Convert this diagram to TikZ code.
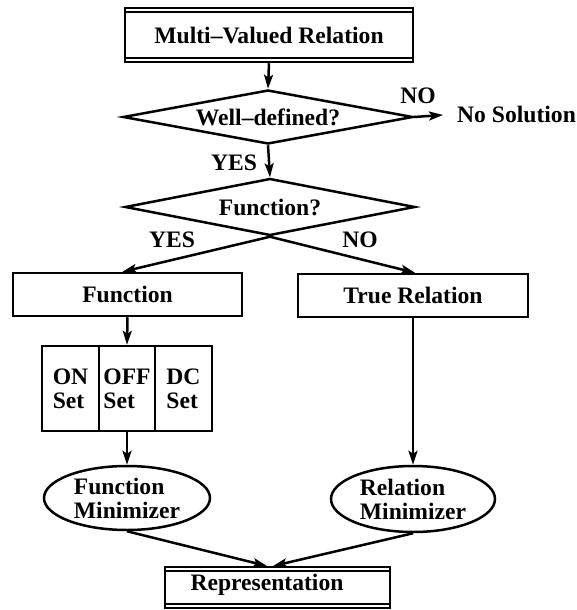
\documentclass[tikz,border=0pt]{standalone}
\usepackage{fontspec}
\setmainfont{Liberation Serif}
\usetikzlibrary{shapes.geometric,arrows.meta,calc}
\begin{document}
\begin{tikzpicture}[x=1pt,y=-1pt,
  font=\fontsize{23.6}{24}\selectfont\bfseries,
  box/.style={draw,line width=2.5pt,rectangle,inner sep=0pt},
  dia/.style={draw,line width=2.5pt,diamond,inner sep=0pt,aspect=5},
  ell/.style={draw,line width=2.5pt,ellipse,inner sep=0pt,align=left},
  lbl/.style={inner sep=0pt},
  arr/.style={line width=2.5pt,-{Stealth[length=14pt,width=9pt,inset=3pt]}},
  inner/.style={line width=1.6pt}]
\useasboundingbox (0,0) rectangle (576,610);

% top box
\node[box,minimum width=288pt,minimum height=54pt] (mvr) at (269,35) {Multi–Valued Relation};
\draw[inner] ([yshift=-5pt]mvr.north west) -- ([yshift=-5pt]mvr.north east);
\draw[inner] ([yshift=5pt]mvr.south west) -- ([yshift=5pt]mvr.south east);

% diamonds
\node[dia,minimum width=290pt,minimum height=54pt] (d1) at (268,117) {Well–defined?};
\node[dia,minimum width=290pt,minimum height=57pt] (d2) at (270,207) {Function?};

\node[lbl,anchor=west] (nosol) at (457,114) {No Solution};
\node[lbl] (no1) at (418,96) {NO};
\node[lbl] (yes1) at (234,163) {YES};
\node[lbl] (yes2) at (172,240) {YES};
\node[lbl] (no2) at (360,240) {NO};

% boxes
\node[box,minimum width=229pt,minimum height=43pt] (func) at (127.5,294.5) {Function};
\node[box,minimum width=230pt,minimum height=43pt] (tr) at (413,295.5) {True Relation};

% sets
\node[box,minimum width=57pt,minimum height=85pt,align=left] (on) at (70.5,388.5) {ON\\Set};
\node[box,minimum width=56pt,minimum height=85pt,align=left] (off) at (127,388.5) {OFF\\Set};
\node[box,minimum width=57pt,minimum height=85pt,align=left] (dc) at (183.5,388.5) {DC\\Set};

% ellipses
\node[ell,minimum width=166pt,minimum height=64pt] (fmin) at (127,498) {Function\\Minimizer};
\node[ell,minimum width=164pt,minimum height=66pt] (rmin) at (413,499) {Relation\\Minimizer};

% representation
\node[box,minimum width=225pt,minimum height=41pt] (rep) at (277.5,587.5) {};
\draw[inner] ([yshift=-5pt]rep.north west) -- ([yshift=-5pt]rep.north east);
\draw[inner] ([yshift=5pt]rep.south west) -- ([yshift=5pt]rep.south east);
\node[lbl] (reptxt) at (267,585) {Representation};
\coordinate (in1) at (267,566);
\coordinate (in2) at (273,566);

% connectors
\draw[arr] (mvr.south) -- (d1.north);
\draw[arr] (d1.south) -- (d2.north);
\draw[arr,shorten >=14pt] (d1.east) -- (nosol.west);
\draw[arr] (d2.south) -- ([xshift=-5pt]func.north);
\draw[arr] (d2.south) -- ([xshift=2pt]tr.north);
\draw[arr] (func.south) -- (off.north);
\draw[arr] (off.south) -- (fmin.north);
\draw[arr] (tr.south) -- (rmin.north);
\draw[arr] (fmin.south) -- (in1);
\draw[arr] (rmin.south) -- (in2);
\end{tikzpicture}
\end{document}
